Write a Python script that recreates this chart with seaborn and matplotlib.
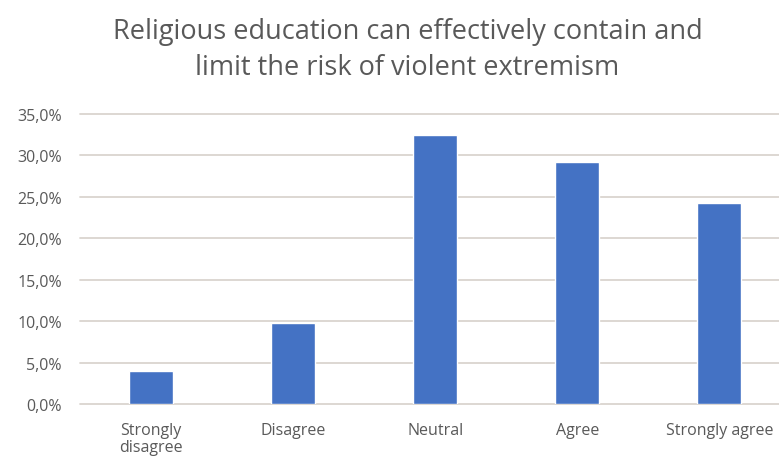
import numpy as np
import pandas as pd
import matplotlib
matplotlib.use('Agg')
import matplotlib.pyplot as plt
import seaborn as sns
from matplotlib.ticker import FuncFormatter, MultipleLocator

# Data
categories = ['Strongly\ndisagree', 'Disagree', 'Neutral', 'Agree', 'Strongly agree']
shares = [0.040, 0.098, 0.325, 0.292, 0.242]

df = pd.DataFrame({'answer': categories, 'share': shares})

sns.set_theme(style='white')
plt.rcParams['font.family'] = ['Open Sans', 'DejaVu Sans']

text_grey = '#595959'
bar_blue = '#4472C4'

fig = plt.figure(figsize=(7.79, 4.64), dpi=100)
ax = fig.add_axes([0.1027, 0.1272, 0.8973, 0.625])

sns.barplot(data=df, x='answer', y='share', color=bar_blue, width=0.31,
            saturation=1, ax=ax, zorder=3)

ax.set_ylim(0, 0.35)
ax.set_xlim(-0.5, 4.42)
ax.yaxis.set_major_locator(MultipleLocator(0.05))
ax.yaxis.set_major_formatter(FuncFormatter(lambda v, p: f'{v*100:.1f}%'.replace('.', ',')))
ax.grid(axis='y', color='#DAD4CF', linewidth=1.3, zorder=0)
for gl in ax.get_ygridlines():
    gl.set_clip_on(False)
sns.despine(ax=ax, left=True, bottom=True, top=True, right=True)

ax.set_xlabel('')
ax.set_ylabel('')
ax.tick_params(axis='y', length=0, pad=13, labelsize=11.5, labelcolor=text_grey)
ax.tick_params(axis='x', length=0, pad=13, labelsize=11.5, labelcolor=text_grey)
for lab in ax.get_xticklabels():
    lab.set_linespacing(1.05)

fig.text(0.523, 0.962, 'Religious education can effectively contain and\nlimit the risk of violent extremism',
         ha='center', va='top', fontsize=19.5, color=text_grey, linespacing=1.4)

fig.savefig('out.png', dpi=100)
